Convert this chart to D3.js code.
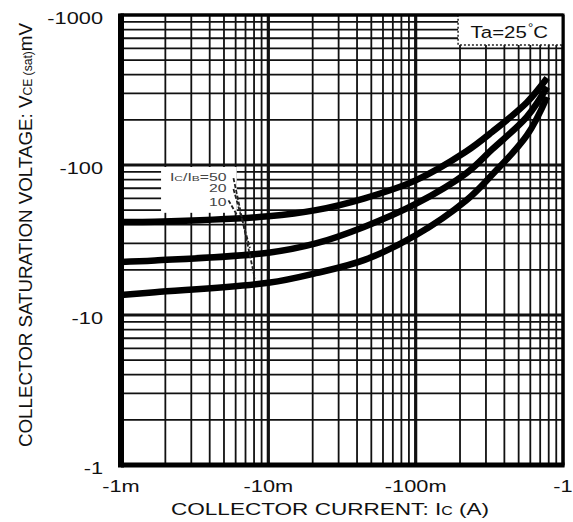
<!DOCTYPE html>
<html>
  <head>
    <meta charset="utf-8">
    <title>Collector saturation voltage vs. collector current</title>
    <script src="https://d3js.org/d3.v7.min.js"></script>
    <style>
      body { margin: 0; background: #fff; }
      #chart { display: block; font-family: "Liberation Sans", Arial, sans-serif; }
      .grid line { stroke: #111; }
      .curve { fill: none; stroke: #000; stroke-width: 6.5; }
      .leader { stroke: #222; stroke-width: 1.8; stroke-dasharray: 4 2; }
      .tick { font-size: 17px; fill: #111; }
      .title { font-size: 17px; fill: #111; }
      .ratio { font-size: 10.5px; fill: #444; }
    </style>
  </head>
  <body>
    <svg id="chart" width="573" height="522">
      <g id="gridGroup"></g>
      <g id="boxGroup"></g>
      <g id="curveGroup"></g>
      <g id="labelGroup"></g>
      <g id="axisGroup"></g>
    </svg>
    <script>
      // values: collector current (A), Vce(sat) (mV)
      const current = [0.001, 0.0017, 0.01, 0.021, 0.045, 0.1, 0.22, 0.33, 0.57, 0.78];
      const vce50 = [41.7, 41.9, 45.5, 50, 60, 79, 123, 166, 262, 380];
      const vce20 = [22.6, 23.1, 26, 30, 38.8, 55, 88, 127, 210, 331];
      const vce10 = [13.6, 14.2, 16.4, 19, 23.3, 34, 58, 86, 158, 284];
      const ratios = ["50", "20", "10"];
      // where the Ic/Ib labels sit and where their leaders meet a curve
      const labelCurrent = 0.0052;
      const labelVce = [78, 66, 53];
      const leaderCurrent = [0.0081, 0.0075, 0.0062];
      const leaderVce = [17.5, 28, 45.5];
      const labelBoxCurrent = [0.00187, 0.0061];
      const labelBoxVce = [48, 97];
      const tempBoxCurrent = [0.194, 1];
      const tempBoxVce = [631, 1000];
      const tempCurrent = 0.236;
      const tempVce = 703;
      // tick labels
      const xTickValues = [0.001, 0.01, 0.1, 1];
      const xTickLabels = ["-1m", "-10m", "-100m", "-1"];
      const yTickValues = [1, 10, 100, 1000];
      const yTickLabels = ["-1", "-10", "-100", "-1000"];

      const margin = { top: 15, right: 10, bottom: 57, left: 121 };
      const width = 573, height = 522;
      const stretch = 1.28;

      const x = d3.scaleLog()
        .domain([0.001, 1])
        .range([margin.left, width - margin.right]);
      const y = d3.scaleLog()
        .domain([1, 1000])
        .range([height - margin.bottom, margin.top]);

      function isDecade(d) {
        return Math.abs(Math.log10(d) - Math.round(Math.log10(d))) < 1e-6;
      }

      // log grid
      const grid = d3.select("#gridGroup").classed("grid", true);
      grid.selectAll(".vline")
        .data(x.ticks())
        .enter().append("line")
          .classed("vline", true)
          .attr("x1", function(d) { return x(d); })
          .attr("x2", function(d) { return x(d); })
          .attr("y1", y(1000))
          .attr("y2", y(1))
          .attr("stroke-width", function(d) { return isDecade(d) ? 3.2 : 1.8; });
      grid.selectAll(".hline")
        .data(y.ticks())
        .enter().append("line")
          .classed("hline", true)
          .attr("x1", x(0.001))
          .attr("x2", x(1))
          .attr("y1", function(d) { return y(d); })
          .attr("y2", function(d) { return y(d); })
          .attr("stroke-width", function(d) { return isDecade(d) ? 3.2 : 1.8; });

      // white boxes behind the annotations
      const boxes = d3.select("#boxGroup");
      boxes.append("rect")
        .attr("x", x(labelBoxCurrent[0]))
        .attr("y", y(labelBoxVce[1]))
        .attr("width", x(labelBoxCurrent[1]) - x(labelBoxCurrent[0]))
        .attr("height", y(labelBoxVce[0]) - y(labelBoxVce[1]))
        .attr("fill", "#fff");
      boxes.append("rect")
        .attr("x", x(tempBoxCurrent[0]))
        .attr("y", y(tempBoxVce[1]))
        .attr("width", x(tempBoxCurrent[1]) - x(tempBoxCurrent[0]))
        .attr("height", y(tempBoxVce[0]) - y(tempBoxVce[1]))
        .attr("fill", "#fff")
        .attr("stroke", "#222")
        .attr("stroke-width", 1.5)
        .attr("stroke-dasharray", "2 2");

      // curves
      const line = d3.line()
        .x(function(d) { return x(d[0]); })
        .y(function(d) { return y(d[1]); })
        .curve(d3.curveCatmullRom.alpha(0.5));
      d3.select("#curveGroup").selectAll(".curve")
        .data([vce50, vce20, vce10])
        .enter().append("path")
          .classed("curve", true)
          .attr("d", function(d) { return line(d3.zip(current, d)); });

      // frame
      const axisGroup = d3.select("#axisGroup");
      axisGroup.append("rect")
        .attr("x", x(0.001))
        .attr("y", y(1000))
        .attr("width", x(1) - x(0.001))
        .attr("height", y(1) - y(1000))
        .attr("fill", "none")
        .attr("stroke", "#000")
        .attr("stroke-width", 3);
      axisGroup.append("line")
        .attr("x1", x(0.001)).attr("x2", x(0.001))
        .attr("y1", y(1000) - 1.5).attr("y2", y(1) + 2.5)
        .attr("stroke", "#000")
        .attr("stroke-width", 6);
      axisGroup.append("line")
        .attr("x1", x(0.001)).attr("x2", x(1) + 1.5)
        .attr("y1", y(1)).attr("y2", y(1))
        .attr("stroke", "#000")
        .attr("stroke-width", 5);

      // tick labels
      axisGroup.selectAll(".xtick")
        .data(xTickValues)
        .enter().append("text")
          .attr("class", "tick xtick")
          .attr("transform", function(d) { return "translate(" + x(d) + "," + (y(1) + 27) + ") scale(" + stretch + ",1)"; })
          .attr("text-anchor", "middle")
          .text(function(d, i) { return xTickLabels[i]; });
      axisGroup.selectAll(".ytick")
        .data(yTickValues)
        .enter().append("text")
          .attr("class", "tick ytick")
          .attr("transform", function(d) { return "translate(" + (x(0.001) - 18) + "," + (y(d) + 9) + ") scale(" + stretch + ",1)"; })
          .attr("text-anchor", "end")
          .text(function(d, i) { return yTickLabels[i]; });

      // axis titles, pinned at both ends
      const xTitle = axisGroup.append("text")
        .classed("title", true)
        .attr("x", 171)
        .attr("y", 515)
        .attr("textLength", 318)
        .attr("lengthAdjust", "spacingAndGlyphs");
      xTitle.append("tspan").text("COLLECTOR CURRENT: I");
      xTitle.append("tspan").attr("font-size", "12px").text("C");
      xTitle.append("tspan").text(" (A)");

      const yTitle = axisGroup.append("text")
        .classed("title", true)
        .attr("font-size", "18px")
        .attr("transform", "translate(" + 32 + "," + 447 + ") rotate(-90) scale(1,1.1)")
        .attr("textLength", 424)
        .attr("lengthAdjust", "spacingAndGlyphs");
      yTitle.append("tspan").text("COLLECTOR SATURATION VOLTAGE: V");
      yTitle.append("tspan").attr("font-size", "11px").text("CE (sat)");
      yTitle.append("tspan").text("mV");

      // Ic/Ib labels and dashed leaders
      const labels = d3.select("#labelGroup");
      labels.selectAll(".ratio")
        .data(ratios)
        .enter().append("text")
          .classed("ratio", true)
          .attr("transform", function(d, i) { return "translate(" + x(labelCurrent) + "," + y(labelVce[i]) + ") scale(1.5,1)"; })
          .attr("text-anchor", "end")
          .each(function(d, i) {
            const t = d3.select(this);
            if (i === 0) {
              t.append("tspan").text("I");
              t.append("tspan").attr("font-size", "8px").text("C");
              t.append("tspan").text("/I");
              t.append("tspan").attr("font-size", "8px").text("B");
              t.append("tspan").text("=" + d);
            } else {
              t.text(d);
            }
          });
      labels.selectAll(".leader")
        .data(ratios)
        .enter().append("line")
          .classed("leader", true)
          .attr("x1", function(d, i) { return x(labelCurrent) + (i === 2 ? 2 : 7); })
          .attr("y1", function(d, i) { return y(labelVce[i]) - (i === 2 ? 6 : 3); })
          .attr("x2", function(d, i) { return x(leaderCurrent[i]); })
          .attr("y2", function(d, i) { return y(leaderVce[i]); });

      // ambient temperature note
      const temp = labels.append("text")
        .classed("title", true)
        .attr("transform", "translate(" + x(tempCurrent) + "," + y(tempVce) + ") scale(1.2,1)");
      temp.append("tspan").text("Ta=25");
      temp.append("tspan").attr("font-size", "11px").attr("dx", 1).attr("dy", -7).text("°");
      temp.append("tspan").attr("dy", 7).text("C");
    </script>
  </body>
</html>
